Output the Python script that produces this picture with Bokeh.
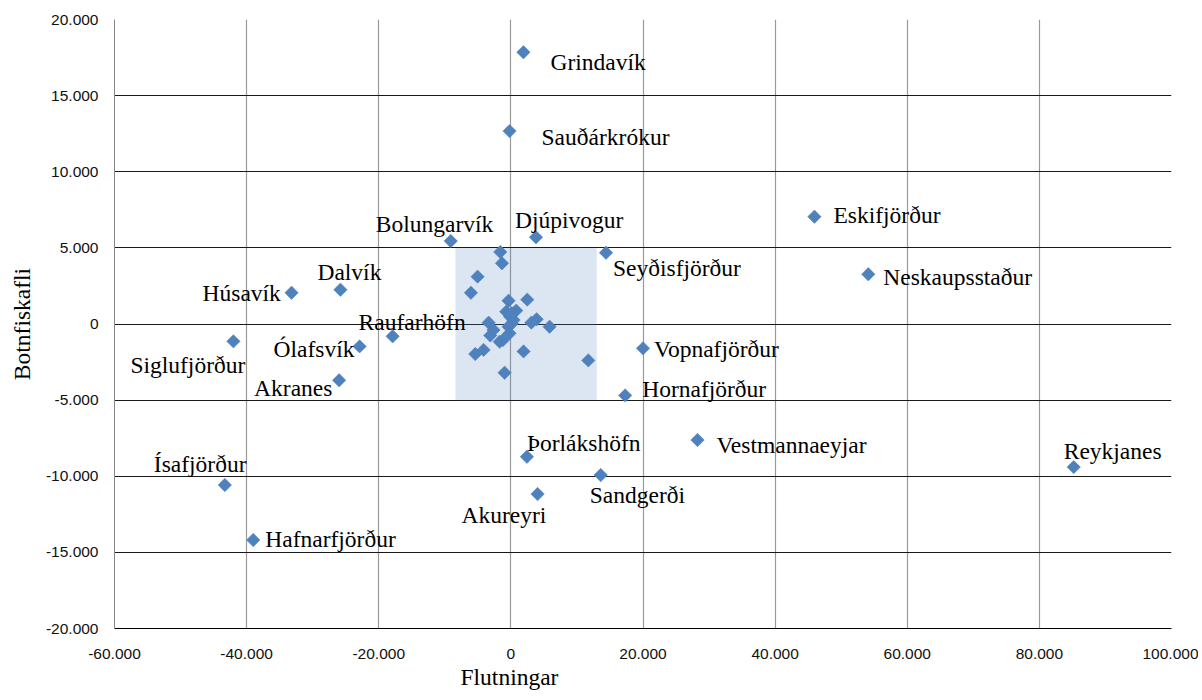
from math import pi
from bokeh.plotting import figure
from bokeh.models import Range1d, FixedTicker, Title, ColumnDataSource
from bokeh.core.properties import value
from bokeh.embed import file_html
from bokeh.resources import INLINE

# ---- data ----
names = ["Grindavík", "Sauðárkrókur", "Bolungarvík", "Djúpivogur", "Seyðisfjörður",
         "Húsavík", "Dalvík", "Raufarhöfn", "Siglufjörður", "Ólafsvík", "Akranes",
         "Eskifjörður", "Neskaupsstaður", "Reykjanes", "Vopnafjörður", "Hornafjörður",
         "Þorlákshöfn", "Vestmannaeyjar", "Sandgerði", "Akureyri", "Ísafjörður",
         "Hafnarfjörður"]
flutningar = [1900, -200, -9100, 3800, 14400,
              -33200, -25800, -17900, -42000, -22900, -26000,
              45950, 54100, 85200, 20000, 17300,
              2430, 28250, 13600, 4040, -43300,
              -39000]
botnfiskafli = [17850, 12670, 5450, 5700, 4680,
                2050, 2250, -810, -1140, -1470, -3700,
                7050, 3270, -9400, -1600, -4690,
                -8720, -7620, -9920, -11170, -10580,
                -14190]

other_flutningar = [-1600, -1350, -5040, -6050, 2480, -350, -700, 810, -100, 400,
                    150, 150, -350, -3370, 3100, 3900, 5860, -2630, -3120, -200,
                    -1700, -1200, -4130, -5390, 1920, 11720, -950]
other_botnfiskafli = [4730, 3990, 3110, 2050, 1600, 1530, 810, 880, 480, 260,
                      700, 40, -180, 90, 90, 310, -180, -390, -750, -610,
                      -1160, -1050, -1700, -1970, -1800, -2390, -3200]

highlight_x = [-8400, 13000]
highlight_y = [-5000, 5000]

x_ticks = [-60000, -40000, -20000, 0, 20000, 40000, 60000, 80000, 100000]
x_tick_labels = ["-60.000", "-40.000", "-20.000", "0", "20.000", "40.000",
                 "60.000", "80.000", "100.000"]
y_ticks = [-20000, -15000, -10000, -5000, 0, 5000, 10000, 15000, 20000]
y_tick_labels = ["-20.000", "-15.000", "-10.000", "-5.000", "0", "5.000",
                 "10.000", "15.000", "20.000"]

x_title = "Flutningar"
y_title = "Botnfiskafli"

# label offsets in pixels (placement only)
label_dx = [27, 32, -75, -21, 7,
            -89, -23, -34, -103, -86, -85,
            19, 15, -10, 11, 17,
            0, 19, -11, -76, -71,
            12]
label_dy = [10, 6, -17, -17, 15,
            0, -18, -14, 24, 3, 8,
            -2, 3, -16, 1, -6,
            -14, 5, 20, 21, -21,
            -1]

BLUE = "#4F81BD"
SERIF = "Liberation Serif"
SANS = "Liberation Sans"

p = figure(width=1198, height=696,
           x_range=Range1d(x_ticks[0], x_ticks[-1]),
           y_range=Range1d(y_ticks[0], y_ticks[-1]),
           output_backend="svg", toolbar_location=None,
           min_border_left=114, min_border_right=27,
           min_border_top=19, min_border_bottom=68)
p.outline_line_color = None
p.background_fill_color = "white"

# axes
for ax, ticks, labels in ((p.xaxis[0], x_ticks, x_tick_labels),
                          (p.yaxis[0], y_ticks, y_tick_labels)):
    ax.ticker = FixedTicker(ticks=ticks)
    ax.major_label_overrides = {t: l for t, l in zip(ticks, labels)}
    ax.major_tick_in = 0
    ax.major_tick_out = 0
    ax.minor_tick_in = 0
    ax.minor_tick_out = 0
    ax.major_label_text_font = SANS
    ax.major_label_text_font_size = "15.5px"
    ax.major_label_text_color = "#111111"
p.xaxis.axis_line_color = "#000000"
p.yaxis.axis_line_color = "#868686"
p.xaxis.major_label_standoff = 20
p.yaxis.major_label_standoff = 16

# y axis title
p.yaxis.axis_label = y_title
p.yaxis.axis_label_text_font = SERIF
p.yaxis.axis_label_text_font_size = "23.5px"
p.yaxis.axis_label_text_font_style = "normal"
p.yaxis.axis_label_text_color = "#000000"
p.yaxis.axis_label_standoff = 8

# x axis title (placed under the zero line as in the original)
p.add_layout(Title(text=x_title, align="left", offset=346, standoff=0,
                   text_font=SERIF, text_font_size="23.5px",
                   text_font_style="normal", text_color="#000000"), "below")

# grids
p.xgrid.ticker = FixedTicker(ticks=x_ticks)
p.ygrid.ticker = FixedTicker(ticks=y_ticks)
p.xgrid.grid_line_color = "#9a9a9a"
p.xgrid.grid_line_width = 1.2
p.ygrid.grid_line_color = "#1a1a1a"
p.ygrid.grid_line_width = 1.2

# highlighted region
p.quad(left=[highlight_x[0]], right=[highlight_x[1]],
       bottom=[highlight_y[0]], top=[highlight_y[1]],
       fill_color=BLUE, fill_alpha=0.2, line_color=None)

# points
all_x = flutningar + other_flutningar
all_y = botnfiskafli + other_botnfiskafli
p.scatter(all_x, all_y, marker="square", angle=pi / 4, size=9.5,
          fill_color=BLUE, line_color=BLUE, line_width=0.5)

# labels
src = ColumnDataSource(dict(x=flutningar, y=botnfiskafli, t=names,
                            dx=label_dx, dy=label_dy))
p.text(x="x", y="y", text="t", x_offset="dx", y_offset="dy", source=src,
       text_font=value(SERIF), text_font_size="23.5px", text_color="#000000",
       text_align="left", text_baseline="middle")

open("out.html", "w").write(file_html(p, INLINE))
